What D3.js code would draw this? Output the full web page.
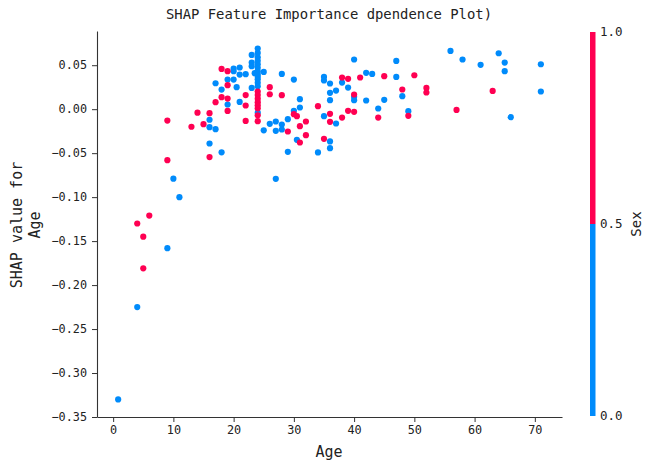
<!DOCTYPE html>
<html><head><meta charset="utf-8">
<script src="https://cdn.jsdelivr.net/npm/d3@7"></script>
<style>
body{margin:0;background:#fff;}
text{font-family:"DejaVu Sans Mono","Liberation Mono",monospace;fill:#222;}
</style></head>
<body><svg id="c" width="653" height="469"></svg>
<script>
// Age values (x), SHAP values for Age (y), Sex (color) — one entry per point
const ages = [0.83,4,4,5,5,6,9,10,11,9,9,13,14,15,16,16,16,16,16,17,17,17,18,18,18,18,
19,19,19,19,19,19,20,20,20,20.5,21,21,21,22,22,22,22,23,23,23,23,23.5,
24,24,24,24,24,24,24,24,24,24,24,24,24,24,24,24,24,24,24,24,24,
25,25,26,26,26,27,27,27,28,28,28,28,29,29,29,30,30,30,30.5,30.5,31,31,31,31,32,32,
34,34,35,35,35,35,36,36,36,36,36,36,36,37,37,38,38,38,39,39,39,40,40,40,40,40,41,
42,42,43,44,44,45,45,47,47,48,48,49,49,50,52,52,56,57,58,61,63,64,65,65,66,71,71];
const shapAge = [-0.330,-0.225,-0.130,-0.145,-0.181,-0.121,-0.158,-0.079,-0.100,-0.058,-0.013,-0.020,-0.004,-0.017,-0.0045,-0.012,-0.0205,-0.039,-0.0545,-0.0227,0.008,0.0295,0.0458,0.0223,0.0136,-0.049,
0.0432,0.0337,0.0273,0.0121,0.0053,-0.002,0.0462,0.0432,0.0337,0.025,0.0474,0.0394,0.0083,0.0398,0.016,0.0042,-0.0133,0.0617,0.053,0.0489,0.0242,0.041,
0.069,0.064,0.059,0.055,0.051,0.047,0.043,0.040,0.037,0.034,0.030,0.026,-0.004,0.020,0.016,0.012,0.008,0.0045,0.001,-0.007,-0.0136,
0.0424,-0.024,0.025,0.017,-0.0167,-0.014,-0.0246,-0.0792,0.0401,0.0159,-0.0174,-0.0231,-0.0114,-0.0254,-0.0485,0.0337,-0.0019,-0.0057,-0.008,-0.0348,0.0114,0.0019,-0.0193,-0.0379,-0.014,-0.0295,
0.0034,-0.0492,0.0367,0.0326,-0.008,-0.0337,0.0292,0.0186,0.0102,-0.0053,-0.0144,-0.0367,-0.0443,0.0212,-0.0163,0.036,0.0303,-0.0095,0.0345,0.0246,-0.0019,0.0565,0.0167,0.014,0.0102,-0.003,0.036,
0.0413,0.0099,0.0401,0.0008,-0.0095,0.0375,0.0106,0.0549,0.0367,0.0224,0.0148,-0.0023,-0.0076,0.0386,0.0242,0.019,0.0663,-0.0008,0.0565,0.0504,0.0208,0.0636,0.053,0.0432,-0.0091,0.0511,0.0201];
const sex = [0,0,1,1,1,1,0,0,0,1,1,1,1,1,1,0,0,0,1,0,1,0,1,0,1,0,
1,0,1,1,0,1,0,0,0,0,0,0,0,0,1,1,1,0,0,0,0,0,
0,0,0,0,0,0,0,0,0,0,0,0,0,1,1,1,1,1,1,1,1,
0,0,1,1,0,0,0,0,0,1,0,0,0,1,0,0,0,1,1,0,0,0,1,1,1,1,
1,0,0,0,0,1,0,0,0,1,1,0,0,0,0,1,0,1,1,0,1,0,1,0,0,1,1,
0,0,0,0,1,1,0,0,0,1,0,0,1,1,1,1,0,1,0,0,1,0,0,0,0,0,0];
const xTicks = [0,10,20,30,40,50,60,70];
const yTicks = [0.05,0.00,-0.05,-0.10,-0.15,-0.20,-0.25,-0.30,-0.35];
const cbTicks = [0.0,0.5,1.0];
const titleText = "SHAP Feature Importance dpendence Plot)";
const xLabel = "Age";
const yLabelLines = ["SHAP value for","Age"];
const cbLabel = "Sex";
const blue = "#008bfb", red = "#ff0052";

const data = ages.map((a,i)=>({x:a,y:shapAge[i],s:sex[i]}));
const svg = d3.select("#c");
const L=97,R=562,T=31,B=417;
const x = d3.scaleLinear().domain([-2.68,74.51]).range([L,R]);
const y = d3.scaleLinear().domain([-0.35,0.0889]).range([B,T]);
const color = d3.scaleThreshold().domain([0.5]).range([blue,red]);

// points: blue first, then red on top
const order = data.slice().sort((a,b)=>a.s-b.s);
svg.append("g").selectAll("circle").data(order).join("circle")
  .attr("cx",d=>x(d.x)).attr("cy",d=>y(d.y)).attr("r",3.1)
  .attr("fill",d=>color(d.s));

const fmtY = v => d3.format(".2f")(v).replace("-","−");
const xa = svg.append("g").attr("transform",`translate(0,${B})`)
  .call(d3.axisBottom(x).tickValues(xTicks).tickFormat(d3.format("d")).tickSize(5).tickPadding(4).tickSizeOuter(0));
const ya = svg.append("g").attr("transform",`translate(${L},0)`)
  .call(d3.axisLeft(y).tickValues(yTicks).tickFormat(fmtY).tickSize(5).tickPadding(5).tickSizeOuter(0));
[xa,ya].forEach(g=>{
  g.select(".domain").attr("stroke","#333").attr("stroke-width",1.1);
  g.selectAll(".tick line").attr("stroke","#333");
  g.selectAll(".tick text").attr("font-size",11.8).attr("font-family","DejaVu Sans Mono").attr("fill","#333");
});

svg.append("text").attr("x",329).attr("y",19).attr("text-anchor","middle")
  .attr("font-size",13.9).text(titleText);
svg.append("text").attr("x",329).attr("y",457).attr("text-anchor","middle")
  .attr("font-size",15).text(xLabel);
const yl = svg.append("text").attr("transform","translate(22,225) rotate(-90)").attr("text-anchor","middle").attr("font-size",15);
yl.selectAll("tspan").data(yLabelLines).join("tspan").attr("x",0).attr("dy",(d,i)=>i?18:0).text(d=>d);

// colorbar
const cbY = d3.scaleLinear().domain([0,1]).range([416,32]);
const segs = [[0,0.5],[0.5,1]];
svg.append("g").selectAll("rect").data(segs).join("rect")
  .attr("x",590).attr("width",5.5)
  .attr("y",d=>cbY(d[1])).attr("height",d=>cbY(d[0])-cbY(d[1]))
  .attr("fill",d=>color((d[0]+d[1])/2));
svg.append("g").selectAll("text").data(cbTicks).join("text")
  .attr("x",600).attr("y",d=>cbY(d)).attr("dy","0.35em")
  .attr("font-size",12.5).attr("fill","#333").text(d=>d3.format(".1f")(d));
svg.append("text").attr("transform","translate(636,224) rotate(-90)").attr("text-anchor","middle")
  .attr("dy","0.35em").attr("font-size",14).text(cbLabel);
</script></body></html>
